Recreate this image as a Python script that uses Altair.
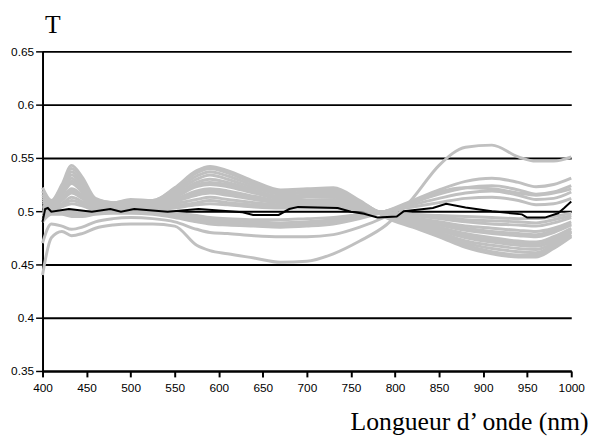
import altair as alt
import pandas as pd

# wavelength grid (nm) at which the grey spectra were read
X = [400, 410, 422, 433, 445, 460, 480, 500, 525, 550, 575, 590, 610, 640,
     670, 700, 730, 760, 790, 820, 850, 880, 910, 940, 960, 980, 1000]

g1 = [0.522, 0.510, 0.525, 0.543, 0.532, 0.512, 0.508, 0.511, 0.510, 0.522, 0.538, 0.542, 0.538, 0.528, 0.520, 0.521, 0.522, 0.510, 0.494, 0.485, 0.476, 0.466, 0.460, 0.457, 0.457, 0.465, 0.476]
g1b = [0.519, 0.509, 0.523, 0.540, 0.530, 0.511, 0.508, 0.510, 0.510, 0.521, 0.536, 0.540, 0.536, 0.526, 0.519, 0.520, 0.521, 0.509, 0.495, 0.486, 0.477, 0.468, 0.462, 0.459, 0.459, 0.466, 0.477]
g2 = [0.516, 0.508, 0.521, 0.537, 0.527, 0.510, 0.507, 0.509, 0.509, 0.519, 0.533, 0.537, 0.533, 0.524, 0.517, 0.518, 0.519, 0.508, 0.495, 0.487, 0.479, 0.470, 0.465, 0.462, 0.461, 0.468, 0.478]
g2b = [0.514, 0.508, 0.520, 0.534, 0.525, 0.509, 0.506, 0.508, 0.508, 0.517, 0.530, 0.534, 0.530, 0.522, 0.516, 0.517, 0.517, 0.508, 0.496, 0.488, 0.480, 0.472, 0.468, 0.465, 0.464, 0.470, 0.480]
g3 = [0.512, 0.507, 0.518, 0.531, 0.522, 0.508, 0.505, 0.508, 0.507, 0.515, 0.527, 0.530, 0.527, 0.520, 0.514, 0.515, 0.515, 0.507, 0.496, 0.489, 0.482, 0.475, 0.471, 0.468, 0.467, 0.472, 0.481]
g3b = [0.510, 0.506, 0.516, 0.528, 0.520, 0.507, 0.505, 0.507, 0.506, 0.514, 0.525, 0.527, 0.525, 0.518, 0.513, 0.514, 0.514, 0.506, 0.496, 0.490, 0.483, 0.477, 0.473, 0.470, 0.469, 0.474, 0.482]
g4 = [0.508, 0.506, 0.515, 0.526, 0.518, 0.506, 0.505, 0.507, 0.506, 0.513, 0.523, 0.525, 0.523, 0.517, 0.512, 0.513, 0.513, 0.506, 0.496, 0.491, 0.485, 0.479, 0.475, 0.472, 0.471, 0.476, 0.484]
g5 = [0.505, 0.505, 0.512, 0.521, 0.515, 0.505, 0.503, 0.505, 0.505, 0.511, 0.519, 0.521, 0.519, 0.514, 0.510, 0.510, 0.511, 0.505, 0.497, 0.492, 0.487, 0.482, 0.479, 0.477, 0.476, 0.480, 0.487]
g5b = [0.504, 0.504, 0.511, 0.519, 0.513, 0.504, 0.503, 0.504, 0.504, 0.510, 0.517, 0.519, 0.517, 0.512, 0.509, 0.509, 0.510, 0.504, 0.497, 0.493, 0.488, 0.484, 0.481, 0.479, 0.478, 0.482, 0.488]
g6 = [0.503, 0.504, 0.510, 0.517, 0.512, 0.504, 0.503, 0.504, 0.504, 0.509, 0.515, 0.517, 0.515, 0.511, 0.508, 0.508, 0.509, 0.504, 0.498, 0.494, 0.490, 0.486, 0.484, 0.482, 0.481, 0.484, 0.490]
g7 = [0.500, 0.503, 0.507, 0.513, 0.509, 0.503, 0.502, 0.503, 0.503, 0.507, 0.511, 0.513, 0.511, 0.508, 0.506, 0.506, 0.507, 0.503, 0.498, 0.496, 0.493, 0.490, 0.488, 0.487, 0.486, 0.489, 0.494]
g7b = [0.498, 0.501, 0.505, 0.510, 0.507, 0.502, 0.501, 0.502, 0.502, 0.505, 0.508, 0.510, 0.508, 0.506, 0.504, 0.504, 0.505, 0.502, 0.499, 0.497, 0.495, 0.492, 0.491, 0.490, 0.489, 0.492, 0.496]
g8 = [0.497, 0.500, 0.504, 0.507, 0.505, 0.501, 0.500, 0.501, 0.501, 0.503, 0.506, 0.507, 0.506, 0.504, 0.503, 0.503, 0.503, 0.501, 0.499, 0.497, 0.496, 0.495, 0.494, 0.493, 0.493, 0.495, 0.498]
h1 = [0.490, 0.497, 0.497, 0.495, 0.495, 0.497, 0.498, 0.498, 0.497, 0.494, 0.490, 0.488, 0.487, 0.486, 0.485, 0.486, 0.488, 0.493, 0.500, 0.510, 0.520, 0.528, 0.531, 0.527, 0.523, 0.525, 0.531]
h2 = [0.492, 0.498, 0.498, 0.497, 0.496, 0.498, 0.499, 0.499, 0.498, 0.495, 0.492, 0.490, 0.489, 0.488, 0.487, 0.488, 0.490, 0.494, 0.500, 0.508, 0.516, 0.522, 0.524, 0.520, 0.516, 0.518, 0.524]
h3 = [0.495, 0.499, 0.499, 0.498, 0.497, 0.499, 0.500, 0.500, 0.499, 0.497, 0.494, 0.492, 0.491, 0.490, 0.489, 0.490, 0.492, 0.496, 0.500, 0.506, 0.512, 0.517, 0.519, 0.515, 0.511, 0.512, 0.518]
h4 = [0.497, 0.500, 0.500, 0.499, 0.499, 0.500, 0.500, 0.501, 0.500, 0.498, 0.496, 0.494, 0.493, 0.492, 0.492, 0.493, 0.494, 0.497, 0.500, 0.504, 0.508, 0.512, 0.513, 0.510, 0.506, 0.507, 0.512]
o1 = [0.440, 0.475, 0.481, 0.477, 0.479, 0.484, 0.487, 0.488, 0.488, 0.486, 0.468, 0.463, 0.460, 0.456, 0.452, 0.453, 0.460, 0.472, 0.487, 0.512, 0.543, 0.560, 0.562, 0.551, 0.547, 0.547, 0.551]
o2 = [0.470, 0.488, 0.486, 0.483, 0.485, 0.490, 0.493, 0.494, 0.493, 0.490, 0.483, 0.480, 0.479, 0.477, 0.476, 0.476, 0.478, 0.485, 0.495, 0.508, 0.518, 0.522, 0.521, 0.517, 0.515, 0.517, 0.521]

grey_series = {"g1": g1, "g1b": g1b, "g2": g2, "g2b": g2b, "g3": g3, "g3b": g3b,
               "g4": g4, "g5": g5, "g5b": g5b, "g6": g6, "g7": g7, "g7b": g7b,
               "g8": g8, "h1": h1, "h2": h2, "h3": h3, "h4": h4,
               "o1": o1, "o2": o2}

# mean spectrum (black)
bx = [400, 403, 406, 410, 430, 456, 477, 489, 504, 542, 577, 627, 639, 668, 680,
      690, 735, 750, 765, 780, 802, 810, 843, 858, 880, 910, 944, 950, 970, 985, 992, 1000]
by = [0.490, 0.502, 0.503, 0.4995, 0.502, 0.4995, 0.502, 0.4995, 0.502, 0.4995, 0.502, 0.499,
      0.4965, 0.4965, 0.502, 0.504, 0.503, 0.4995, 0.4975, 0.494, 0.495, 0.500, 0.503, 0.507,
      0.5035, 0.500, 0.497, 0.494, 0.494, 0.498, 0.503, 0.509]

x_ticks = [400, 450, 500, 550, 600, 650, 700, 750, 800, 850, 900, 950, 1000]
y_ticks = [0.35, 0.4, 0.45, 0.5, 0.55, 0.6, 0.65]

rows = []
for name, vals in grey_series.items():
    for i, (xv, yv) in enumerate(zip(X, vals)):
        rows.append({"s": name, "i": i, "x": xv, "y": yv})
grey_df = pd.DataFrame(rows)
black_df = pd.DataFrame({"x": bx, "y": by, "i": list(range(len(bx)))})

xs = alt.Scale(domain=[400, 1000], nice=False, zero=False)
ys = alt.Scale(domain=[0.35, 0.65], nice=False, zero=False)

x_axis = alt.Axis(values=x_ticks, format="d", grid=False, domainColor="black",
                  domainWidth=2, tickColor="black", tickWidth=2, tickSize=6,
                  labelFont="Liberation Sans", labelFontSize=12, labelColor="black",
                  labelPadding=6, labelFlush=False,
                  title="Longueur d\u2019 onde (nm)", titleFont="Liberation Serif",
                  titleFontSize=26, titleFontWeight="normal", titleColor="black",
                  titleAnchor="end", titleAlign="right", titleX=553, titleY=59,
                  titleBaseline="alphabetic")
y_axis = alt.Axis(values=y_ticks, format=".2~f", grid=True, gridColor="black",
                  gridWidth=2, gridOpacity=1, domainColor="black", domainWidth=2,
                  tickColor="black", tickWidth=1.5, tickSize=7,
                  labelFont="Liberation Sans", labelFontSize=12, labelColor="black",
                  labelPadding=2, labelFlush=False,
                  title="T", titleFont="Liberation Serif", titleFontSize=26,
                  titleFontWeight="normal", titleColor="black", titleAngle=0,
                  titleAlign="left", titleX=2, titleY=-19, titleBaseline="alphabetic")

grey = alt.Chart(grey_df).mark_line(color="#c0c0c0", strokeWidth=3,
                                    interpolate="monotone").encode(
    x=alt.X("x:Q", scale=xs, axis=x_axis),
    y=alt.Y("y:Q", scale=ys, axis=y_axis),
    detail="s:N",
    order="i:Q",
)

black = alt.Chart(black_df).mark_line(color="black", strokeWidth=2).encode(
    x=alt.X("x:Q", scale=xs),
    y=alt.Y("y:Q", scale=ys),
    order="i:Q",
)

chart = alt.layer(grey, black).properties(
    width=536, height=324,
    autosize=alt.AutoSizeParams(type="none"),
    padding={"left": 35, "top": 41, "right": 19, "bottom": 67},
    background="white",
).configure_view(stroke=None)

chart.save("out.html", embed_options={"renderer": "svg", "actions": False})
